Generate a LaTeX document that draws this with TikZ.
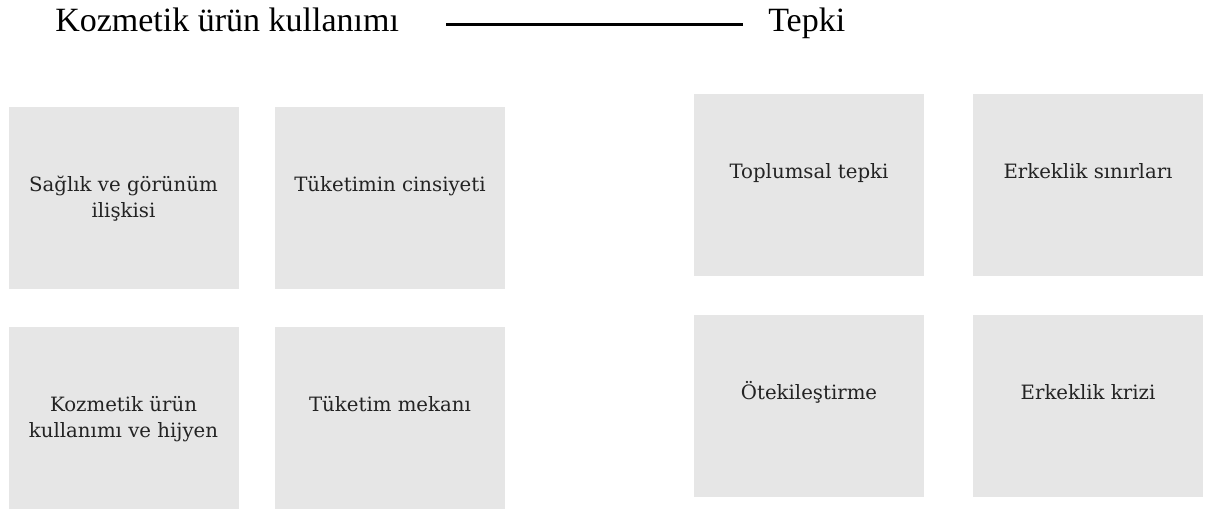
\documentclass[tikz,border=0pt]{standalone}
\usepackage{fontspec}
\setmainfont{Liberation Serif}
\newfontfamily\boxfont{DejaVu Serif}
\usetikzlibrary{calc}
\definecolor{boxgray}{RGB}{230,230,230}
\definecolor{boxtext}{RGB}{35,35,35}
\tikzset{
  box/.style={fill=boxgray, draw=none, minimum width=172.5pt, minimum height=137pt, inner sep=0pt},
  lbl/.style={font=\boxfont\fontsize{14.8pt}{19.5pt}\selectfont, text=boxtext, align=center, anchor=base, inner sep=0pt},
  ttl/.style={font=\fontsize{25.5pt}{30pt}\selectfont, text=black, inner sep=0pt},
}
\begin{document}
\begin{tikzpicture}[x=0.75pt, y=-0.75pt]
\useasboundingbox (0,0) rectangle (1207,510);
% titles
\node[ttl, anchor=base west] (tk) at (55,32) {Kozmetik ürün kullanımı};
\node[ttl, anchor=base west] (tp) at (768,32) {Tepki};
\draw[line width=2.25pt] ($(tk.base east)+(47,-7)$) -- ($(tp.base west)+(-25,-7)$);
% left group
\node[box] (b1) at (123.5,198) {};
\node[box] (b2) at (390,198) {};
\node[box] (b3) at (123.5,418) {};
\node[box] (b4) at (390,418) {};
% right group
\node[box] (r1) at (809,185) {};
\node[box] (r2) at (1088,185) {};
\node[box] (r3) at (809,406) {};
\node[box] (r4) at (1088,406) {};
% labels (base anchor = last line's baseline)
\node[lbl] (l1) at ($(b1.north)+(0,111)$) {Sağlık ve görünüm\\ilişkisi};
\node[lbl] (l2) at ($(b2.north)+(0,85)$) {Tüketimin cinsiyeti};
\node[lbl] (l3) at ($(b3.north)+(0,111)$) {Kozmetik ürün\\kullanımı ve hijyen};
\node[lbl] (l4) at ($(b4.north)+(0,85)$) {Tüketim mekanı};
\node[lbl] (m1) at ($(r1.north)+(0,85)$) {Toplumsal tepki};
\node[lbl] (m2) at ($(r2.north)+(0,85)$) {Erkeklik sınırları};
\node[lbl] (m3) at ($(r3.north)+(0,85)$) {Ötekileştirme};
\node[lbl] (m4) at ($(r4.north)+(0,85)$) {Erkeklik krizi};
\end{tikzpicture}
\end{document}
